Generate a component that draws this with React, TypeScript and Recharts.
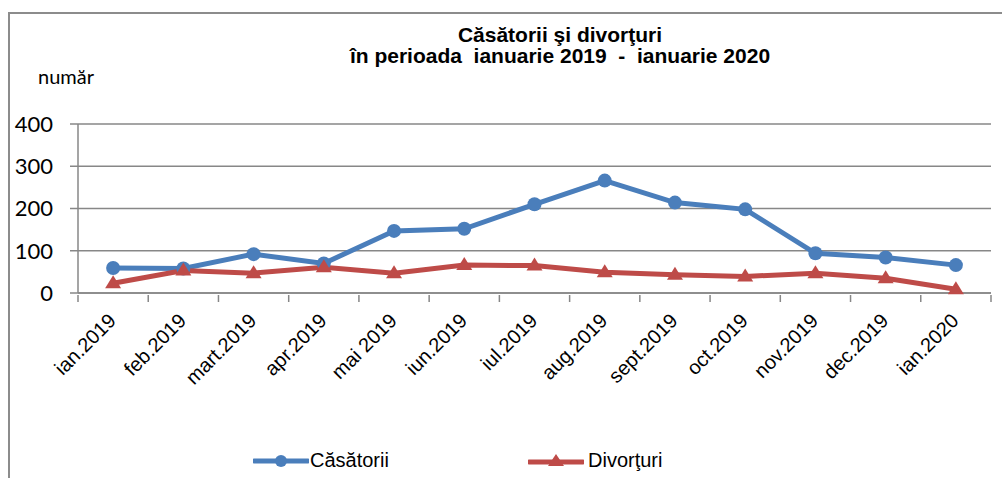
import React from 'react';
import { LineChart, Line, XAxis, YAxis, CartesianGrid, Legend } from 'recharts';

const months = [
  'ian.2019', 'feb.2019', 'mart.2019', 'apr.2019', 'mai 2019', 'iun.2019', 'iul.2019',
  'aug.2019', 'sept.2019', 'oct.2019', 'nov.2019', 'dec.2019', 'ian.2020',
];
const casatorii = [59, 58, 92, 70, 147, 152, 210, 266, 214, 198, 94, 84, 66];
const divorturi = [23, 53, 47, 61, 47, 66, 65, 49, 43, 39, 47, 35, 9];
const yTicks = [0, 100, 200, 300, 400];

const data = months.map((m, i) => ({ month: m, casatorii: casatorii[i], divorturi: divorturi[i] }));

const BLUE = '#4a7ebb';
const RED = '#be4b48';
const GRID = '#878787';

const W = 1002;
const H = 478;
const PLOT_LEFT = 78;
const PLOT_RIGHT = 991;
const HALF_BAND = (PLOT_RIGHT - PLOT_LEFT) / months.length / 2;

const MonthTick = (props: any) => {
  const { x, y, payload, index } = props;
  return (
    <g>
      <line x1={x - HALF_BAND} y1={y} x2={x - HALF_BAND} y2={y + 7} stroke={GRID} strokeWidth={1.5} />
      {index === months.length - 1 && (
        <line x1={x + HALF_BAND} y1={y} x2={x + HALF_BAND} y2={y + 7} stroke={GRID} strokeWidth={1.5} />
      )}
      <text
        transform={`translate(${x + 4},${y + 27}) rotate(-45)`}
        textAnchor="end"
        fontFamily="'Liberation Sans', Arial, sans-serif"
        fontSize={20}
        fill="#000"
      >
        {payload.value}
      </text>
    </g>
  );
};

const Triangle = (props: any) => {
  const { cx, cy } = props;
  if (cx == null || cy == null) return null;
  return <path d={`M${cx},${cy - 8} L${cx + 8},${cy + 5} L${cx - 8},${cy + 5} Z`} fill={RED} />;
};

const LegendContent = () => (
  <div style={{ position: 'relative', height: 24, fontFamily: "'Liberation Sans', Arial, sans-serif", fontSize: 20 }}>
    <div style={{ position: 'absolute', left: 253, top: 0, display: 'flex', alignItems: 'center' }}>
      <svg width={56} height={16}>
        <line x1={1} y1={8} x2={55} y2={8} stroke={BLUE} strokeWidth={5} strokeLinecap="round" />
        <circle cx={28} cy={8} r={6} fill={BLUE} />
      </svg>
      <span style={{ marginLeft: 1 }}>Căsătorii</span>
    </div>
    <div style={{ position: 'absolute', left: 528, top: 0, display: 'flex', alignItems: 'center' }}>
      <svg width={56} height={16}>
        <line x1={1} y1={9} x2={55} y2={9} stroke={RED} strokeWidth={5} strokeLinecap="round" />
        <path d="M28,1 L36,13 L20,13 Z" fill={RED} />
      </svg>
      <span style={{ marginLeft: 4 }}>Divorţuri</span>
    </div>
  </div>
);

export default function App() {
  return (
    <div style={{ position: 'fixed', left: 0, top: 0, width: W, height: H, overflow: 'hidden', background: '#fff' }}>
      <div
        style={{
          position: 'absolute', left: 8, top: 12, width: 1100, height: 600,
          borderLeft: '2px solid #8c8c8c', borderTop: '2px solid #8c8c8c',
        }}
      />
      <LineChart
        width={W}
        height={H}
        data={data}
        margin={{ top: 124, right: W - PLOT_RIGHT, left: 0, bottom: 85 }}
        style={{ position: 'absolute', left: 0, top: 0 }}
      >
        <CartesianGrid vertical={false} stroke={GRID} strokeWidth={1.5} />
        <XAxis
          dataKey="month"
          interval={0}
          height={100}
          tickSize={0}
          tickLine={false}
          padding={{ left: HALF_BAND, right: HALF_BAND }}
          axisLine={{ stroke: GRID, strokeWidth: 1.5 }}
          tick={<MonthTick />}
        />
        <YAxis
          width={PLOT_LEFT}
          domain={[0, 400]}
          ticks={yTicks}
          tickSize={8}
          tickMargin={17}
          tickLine={{ stroke: GRID, strokeWidth: 1.5 }}
          axisLine={{ stroke: GRID, strokeWidth: 1.5 }}
          tick={{ fill: '#000', fontSize: 22, fontFamily: "Lato, 'Open Sans', sans-serif" }}
        />
        <Legend
          layout="vertical"
          verticalAlign="middle"
          align="center"
          content={<LegendContent />}
          wrapperStyle={{ position: 'absolute', left: 0, top: 449, width: W, height: 24 }}
        />
        <Line
          type="linear"
          dataKey="casatorii"
          name="Căsătorii"
          stroke={BLUE}
          strokeWidth={5}
          dot={{ r: 7, fill: BLUE, stroke: BLUE, strokeWidth: 0 }}
          isAnimationActive={false}
        />
        <Line
          type="linear"
          dataKey="divorturi"
          name="Divorţuri"
          stroke={RED}
          strokeWidth={5}
          dot={<Triangle />}
          isAnimationActive={false}
        />
      </LineChart>
      <svg width={W} height={H} style={{ position: 'absolute', left: 0, top: 0, pointerEvents: 'none' }}>
        <text x={560} y={42} textAnchor="middle" fontFamily="'Liberation Sans', Arial, sans-serif" fontSize={21} fontWeight="bold" fill="#000">
          Căsătorii şi divorţuri
        </text>
        <text x={560} y={63} textAnchor="middle" fontFamily="'Liberation Sans', Arial, sans-serif" fontSize={21} fontWeight="bold" fill="#000" style={{ whiteSpace: 'pre' }}>
          {'în perioada  ianuarie 2019  -  ianuarie 2020'}
        </text>
        <text x={38} y={84} fontFamily="Lato, 'Open Sans', sans-serif" fontSize={20} fill="#000">
          număr
        </text>
      </svg>
    </div>
  );
}
